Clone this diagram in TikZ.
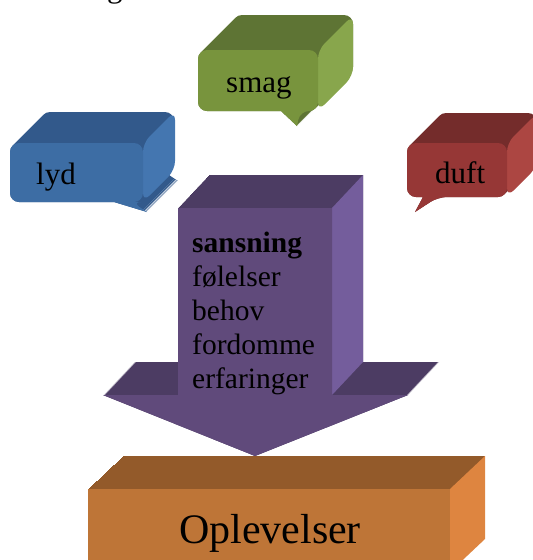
\documentclass[tikz,border=0pt]{standalone}
\usepackage{fontspec}
\setmainfont{Liberation Serif}
\definecolor{bluefront}{RGB}{61,109,164}
\definecolor{bluetop}{RGB}{50,89,139}
\definecolor{blueside}{RGB}{68,118,176}
\definecolor{greenfront}{RGB}{120,148,61}
\definecolor{greentop}{RGB}{94,116,52}
\definecolor{greenside}{RGB}{136,166,76}
\definecolor{redfront}{RGB}{150,55,54}
\definecolor{redtop}{RGB}{116,44,43}
\definecolor{redside}{RGB}{172,70,66}
\definecolor{purplefront}{RGB}{96,74,123}
\definecolor{purpletop}{RGB}{76,60,99}
\definecolor{purpleside}{RGB}{116,93,156}
\definecolor{orangefront}{RGB}{190,117,55}
\definecolor{orangetop}{RGB}{147,90,42}
\definecolor{orangeside}{RGB}{222,133,64}
\def\lydpath{(10,170) [rounded corners=9pt] -- (10,143) -- (143,143) -- (143,202) -- (132,202) [sharp corners] -- (147,212) -- (114,202) [rounded corners=9pt] -- (10,202) -- cycle}
\def\smagpath{(198,80) [rounded corners=9pt] -- (198,50) -- (318,50) -- (318,111) -- (300,111) [sharp corners] -- (297,126) -- (281,111) [rounded corners=9pt] -- (198,111) -- cycle}
\def\duftpath{(407,170) [rounded corners=9pt] -- (407,143) -- (507,143) -- (507,197) -- (438,197) [sharp corners] -- (415,212) -- (423,197) [rounded corners=9pt] -- (407,197) -- cycle}
\def\arrowpath{(178,208) -- (332,208) -- (332,395) -- (408,395) -- (255,456) -- (103,395) -- (178,395) -- cycle}
\def\boxpath{(88,489) -- (450,489) -- (450,572) -- (88,572) -- cycle}
\tikzset{
  txt/.style={inner sep=0pt, font=\fontsize{31}{34}\selectfont},
  arrtxt/.style={inner sep=0pt, anchor=base west, font=\fontsize{29.5}{34}\selectfont}
}
\begin{document}
\begin{tikzpicture}[x=1pt,y=-1pt]
\useasboundingbox (0,0) rectangle (533,560);
% cropped text at top
\node[txt, anchor=base west] (topg) at (107,-2.5) {g};
% lyd bubble
\foreach \i in {0,...,31} { \fill[bluetop, shift={(\i,-\i)}] \lydpath; }
\fill[blueside, rounded corners=9pt] (143,143) -- (175,111) -- (175,170) -- (143,202) -- cycle;
\fill[bluefront] \lydpath;
\node[txt, anchor=base west] (lyd) at (36,184) {lyd};
% smag bubble
\foreach \i in {0,...,35} { \fill[greentop, shift={(\i,-\i)}] \smagpath; }
\fill[greenside, rounded corners=9pt] (318,50) -- (353,15) -- (353,76) -- (318,111) -- cycle;
\fill[greenfront] \smagpath;
\node[txt, anchor=base west] (smag) at (226,92) {smag};
% duft bubble
\foreach \i in {0,...,30} { \fill[redtop, shift={(\i,-\i)}] \duftpath; }
\fill[redside, rounded corners=9pt] (507,143) -- (537,113) -- (537,167) -- (507,197) -- cycle;
\fill[redfront] \duftpath;
\node[txt, anchor=base west] (duft) at (435,183) {duft};
% arrow
\foreach \i in {0,...,33} { \fill[purpletop, shift={({\i*0.94},-\i)}] \arrowpath; }
\fill[purpleside] (332,208) -- (363,175) -- (363,362) -- (332,395) -- cycle;
\fill[purplefront] \arrowpath;
\node[arrtxt, font=\fontsize{29.5}{34}\selectfont\bfseries] (a1) at (192,252) {sansning};
\node[arrtxt] (a2) at (192,286) {følelser};
\node[arrtxt] (a3) at (192,320) {behov};
\node[arrtxt] (a4) at (192,354) {fordomme};
\node[arrtxt] (a5) at (192,388) {erfaringer};
% box
\foreach \i in {0,...,33} { \fill[orangetop, shift={({\i*1.06},-\i)}] \boxpath; }
\fill[orangeside] (450,489) -- (485,456) -- (485,539) -- (450,572) -- cycle;
\fill[orangefront] \boxpath;
\node[inner sep=0pt, anchor=base, font=\fontsize{42}{46}\selectfont] (opl) at (270,543) {Oplevelser};
\end{tikzpicture}
\end{document}
